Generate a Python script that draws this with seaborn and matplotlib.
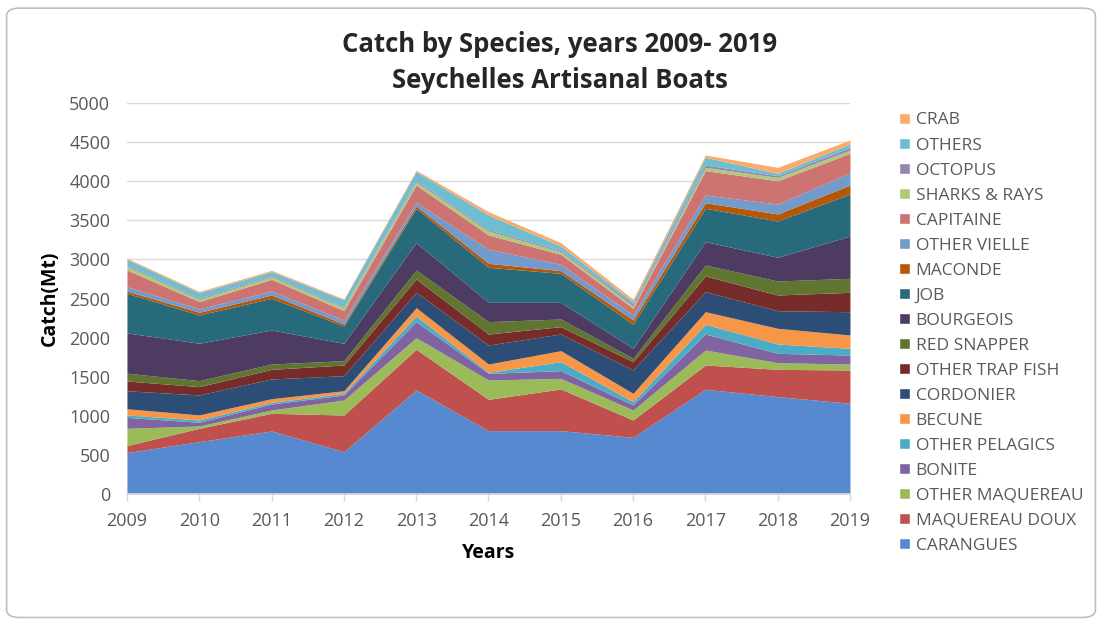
import numpy as np
import pandas as pd
import matplotlib
matplotlib.use("Agg")
import matplotlib.pyplot as plt
import seaborn as sns
from matplotlib.patches import FancyBboxPatch, Patch

# ---- data (Mt) ----
years = [2009, 2010, 2011, 2012, 2013, 2014, 2015, 2016, 2017, 2018, 2019]

species = [
    "CARANGUES", "MAQUEREAU DOUX", "OTHER MAQUEREAU", "BONITE", "OTHER PELAGICS",
    "BECUNE", "CORDONIER", "OTHER TRAP FISH", "RED SNAPPER", "BOURGEOIS", "JOB",
    "MACONDE", "OTHER VIELLE", "CAPITAINE", "SHARKS & RAYS", "OCTOPUS", "OTHERS", "CRAB",
]

carangues       = [530, 670, 806, 541, 1330, 810, 810, 725, 1339, 1245, 1160]
maquereau_doux  = [90, 170, 226, 469, 520, 401, 533, 221, 311, 349, 426]
other_maquereau = [220, 30, 42, 192, 149, 247, 136, 128, 191, 85, 76]
bonite          = [140, 47, 77, 64, 205, 85, 98, 64, 205, 120, 115]
other_pelagics  = [30, 30, 21, 21, 72, 13, 115, 42, 124, 119, 86]
becune          = [80, 64, 47, 34, 107, 106, 141, 107, 161, 201, 170]
cordonier       = [230, 256, 252, 192, 196, 243, 213, 299, 256, 225, 298]
other_trap_fish = [125, 106, 123, 137, 170, 141, 94, 106, 201, 201, 248]
red_snapper     = [100, 77, 68, 55, 115, 158, 98, 43, 140, 179, 179]
bourgeois       = [515, 478, 435, 222, 350, 247, 213, 128, 299, 303, 541]
job             = [505, 362, 405, 221, 439, 448, 371, 307, 426, 464, 537]
maconde         = [30, 34, 43, 26, 30, 51, 34, 55, 72, 90, 115]
other_vielle    = [55, 43, 51, 51, 47, 179, 81, 64, 99, 127, 158]
capitaine       = [215, 93, 149, 119, 221, 183, 128, 85, 311, 298, 248]
sharks_rays     = [50, 31, 34, 39, 43, 51, 34, 30, 42, 43, 42]
octopus         = [15, 13, 13, 12, 16, 17, 16, 26, 30, 21, 31]
others          = [70, 71, 51, 86, 112, 188, 56, 29, 98, 31, 46]
crab            = [15, 16, 17, 14, 18, 42, 43, 31, 30, 76, 51]

df = pd.DataFrame(
    [carangues, maquereau_doux, other_maquereau, bonite, other_pelagics, becune,
     cordonier, other_trap_fish, red_snapper, bourgeois, job, maconde,
     other_vielle, capitaine, sharks_rays, octopus, others, crab],
    index=species, columns=years,
).T

colors = [
    "#5689CF", "#C0504D", "#9BBB59", "#8064A2", "#4BACC6", "#F79646",
    "#2C4D75", "#772C2A", "#5F7530", "#4D3B62", "#276A7C", "#B65708",
    "#729ACA", "#CD7371", "#AFC97A", "#9983B5", "#6FBDD1", "#F9AB6B",
]

sns.set_theme(style="whitegrid")
plt.rcParams["font.family"] = ["Open Sans", "DejaVu Sans"]
text_gray = "#595959"

fig = plt.figure(figsize=(11.02, 6.25), dpi=100)
ax = fig.add_axes([0.1152, 0.2096, 0.7713 - 0.1152, 0.8352 - 0.2096])

ax.stackplot(df.index, df.T.values, colors=colors, labels=species, linewidth=0)

ax.set_xlim(2009, 2019)
ax.set_ylim(0, 5000)
ax.set_yticks(np.arange(0, 5001, 500))
ax.set_xticks(years)
ax.grid(axis="y", color="#D9D9D9", linewidth=1)
ax.grid(axis="x", visible=False)
ax.set_facecolor("white")
for side in ["top", "right", "left"]:
    ax.spines[side].set_visible(False)
ax.spines["bottom"].set_color("#D9D9D9")
ax.tick_params(axis="x", colors=text_gray, labelsize=13, length=5, width=1,
               direction="out", bottom=True, color="#D9D9D9", pad=8)
ax.tick_params(axis="y", colors=text_gray, labelsize=13, length=0, pad=12)
ax.set_axisbelow(True)

ax.set_xlabel("Years", fontsize=14, fontweight="bold", color="black", va="center")
ax.set_ylabel("Catch(Mt)", fontsize=14, fontweight="bold", color="black", va="center")
ax.xaxis.set_label_coords(0.5, -0.151)
ax.yaxis.set_label_coords(-0.1065, 0.5)

fig.text(0.508, 0.928, "Catch by Species, years 2009- 2019", ha="center", va="center",
         fontsize=18.5, fontweight="bold")
fig.text(0.508, 0.872, "Seychelles Artisanal Boats", ha="center", va="center",
         fontsize=18.5, fontweight="bold")

handles = [Patch(facecolor=c, label=s) for s, c in zip(species, colors)][::-1]
fig.legend(handles=handles, loc="upper left", bbox_to_anchor=(0.816, 0.82),
           frameon=False, fontsize=12.5, handlelength=0.6, handleheight=0.6,
           handletextpad=0.35, labelspacing=0.52, borderpad=0, borderaxespad=0,
           labelcolor=text_gray)

border = FancyBboxPatch((0.006, 0.012), 0.988, 0.975, transform=fig.transFigure,
                        boxstyle="round,pad=0,rounding_size=0.012",
                        facecolor="none", edgecolor="#BFBFBF", linewidth=1.2)
fig.patches.append(border)

fig.savefig("out.png", dpi=100)
